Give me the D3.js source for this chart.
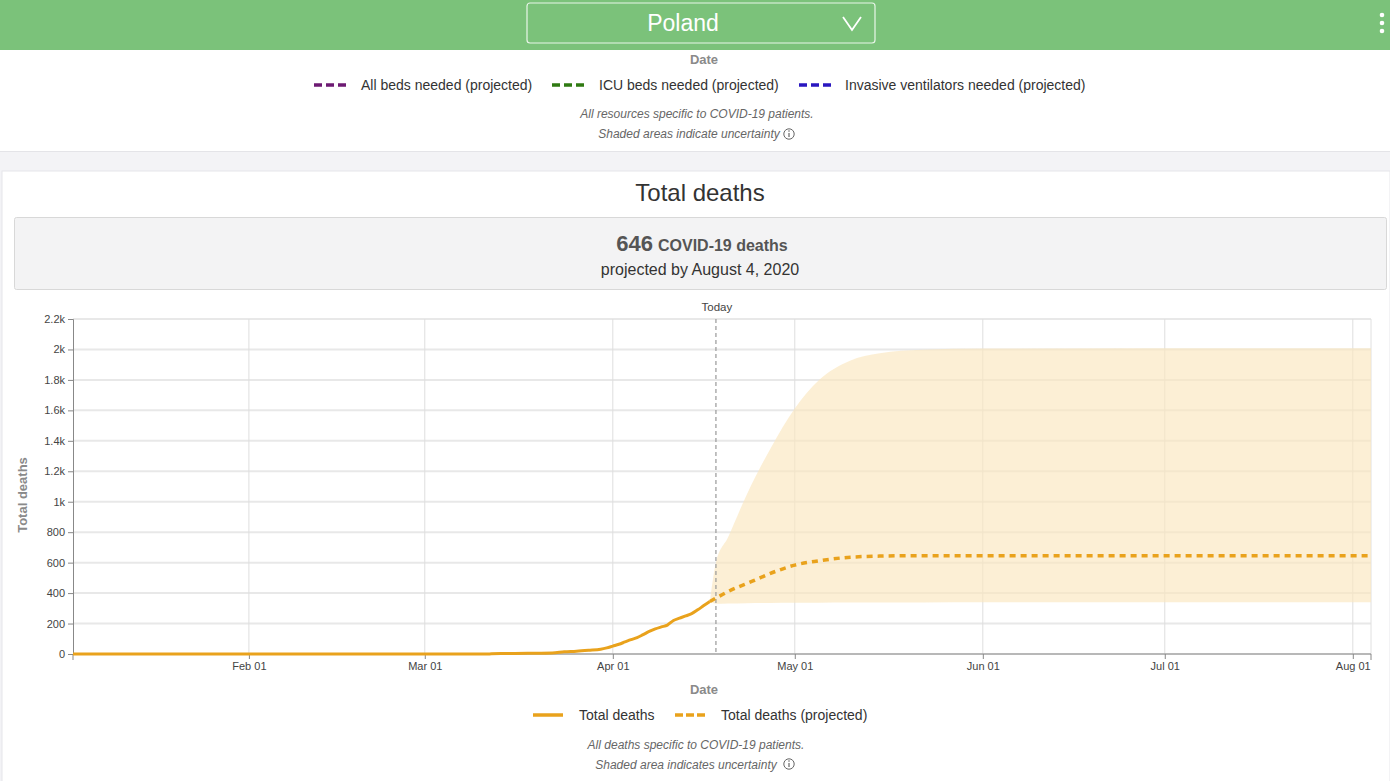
<!DOCTYPE html>
<html><head><meta charset="utf-8">
<script src="https://cdn.jsdelivr.net/npm/d3@7"></script>
<style>
html,body{margin:0;padding:0;background:#f3f3f6;overflow:hidden;}
svg{display:block;font-family:"Liberation Sans",Arial,sans-serif;}
</style></head>
<body>
<svg id="c" width="1390" height="781"></svg>
<script>
// ---- data ----
const country = "Poland";
const topLegendLabels = ["All beds needed (projected)", "ICU beds needed (projected)", "Invasive ventilators needed (projected)"];
const topLegendColors = ["#6d1a73", "#2f7a12", "#2a17c0"];
const actualDates = ["2020-01-03","2020-03-11","2020-03-12","2020-03-14","2020-03-18","2020-03-22","2020-03-24","2020-03-26","2020-03-28","2020-03-30","2020-03-31","2020-04-01","2020-04-02","2020-04-03","2020-04-04","2020-04-05","2020-04-06","2020-04-07","2020-04-08","2020-04-09","2020-04-10","2020-04-11","2020-04-12","2020-04-13","2020-04-14","2020-04-15","2020-04-16","2020-04-17"];
const actualDeaths = [0,0,1,3,5,7,14,18,24,31,40,52,64,79,94,107,127,148,165,178,190,220,235,250,265,290,318,345];
const projDates = ["2020-04-17","2020-04-18","2020-04-20","2020-04-24","2020-04-28","2020-05-01","2020-05-05","2020-05-09","2020-05-15","2020-05-22","2020-06-15","2020-08-04"];
const projDeaths = [345,367,410,478,545,584,612,632,643,646,646,646];
const bandDates = ["2020-04-17","2020-04-18","2020-04-20","2020-04-23","2020-04-27","2020-05-01","2020-05-05","2020-05-10","2020-05-15","2020-05-22","2020-06-01","2020-08-04"];
const bandLower = [345,330,332,334,335,336,337,338,338,339,340,340];
const bandUpper = [345,600,767,1040,1350,1613,1800,1925,1975,1998,2006,2008];
const yTicks = [0,200,400,600,800,1000,1200,1400,1600,1800,2000,2200];
const xTickDates = ["2020-02-01","2020-03-01","2020-04-01","2020-05-01","2020-06-01","2020-07-01","2020-08-01"];
const domainDates = ["2020-01-03","2020-08-04"];
const todayDate = "2020-04-18";
const projectedTotal = 646;

const parse = d3.utcParse("%Y-%m-%d");
const svg = d3.select("#c");
const F = "'Liberation Sans',Arial,sans-serif";

// ---- header ----
svg.append("rect").attr("x",0).attr("y",0).attr("width",1390).attr("height",50).attr("fill","#7bc27a");
svg.append("rect").attr("x",527).attr("y",3).attr("width",348).attr("height",40).attr("rx",3)
  .attr("fill","none").attr("stroke","#e8f5e8").attr("stroke-width",1.2);
svg.append("text").attr("x",683).attr("y",31).attr("text-anchor","middle").attr("fill","#fff")
  .attr("font-size",23).text(country);
svg.append("path").attr("d","M843,17 L852,30 L861,17").attr("fill","none").attr("stroke","#fff").attr("stroke-width",1.8);
[14,22,30].forEach(y=>svg.append("circle").attr("cx",1382).attr("cy",y+1).attr("r",2.3).attr("fill","#fff"));

// ---- top card ----
svg.append("rect").attr("x",0).attr("y",50).attr("width",1390).attr("height",101).attr("fill","#fff");
svg.append("line").attr("x1",0).attr("x2",1390).attr("y1",151.5).attr("y2",151.5).attr("stroke","#e4e4e8");
svg.append("text").attr("x",704).attr("y",64).attr("text-anchor","middle").attr("fill","#8a8a8a")
  .attr("font-size",13).attr("font-weight","bold").text("Date");
const tl = [{x:314,tx:361},{x:552,tx:599},{x:799,tx:845}];
tl.forEach((p,i)=>{
  svg.append("line").attr("x1",p.x).attr("x2",p.x+32).attr("y1",85).attr("y2",85)
    .attr("stroke",topLegendColors[i]).attr("stroke-width",3.5).attr("stroke-dasharray","8,4");
  svg.append("text").attr("x",p.tx).attr("y",90).attr("fill","#333").attr("font-size",14).text(topLegendLabels[i]);
});
svg.append("text").attr("x",697).attr("y",118).attr("text-anchor","middle").attr("fill","#666")
  .attr("font-size",12).attr("font-style","italic").text("All resources specific to COVID-19 patients.");
svg.append("text").attr("x",689).attr("y",138).attr("text-anchor","middle").attr("fill","#666")
  .attr("font-size",12).attr("font-style","italic").text("Shaded areas indicate uncertainty");
function info(cx,cy){
  svg.append("circle").attr("cx",cx).attr("cy",cy).attr("r",5.2).attr("fill","none").attr("stroke","#666").attr("stroke-width",1);
  svg.append("line").attr("x1",cx).attr("x2",cx).attr("y1",cy-1).attr("y2",cy+3).attr("stroke","#666").attr("stroke-width",1.2);
  svg.append("circle").attr("cx",cx).attr("cy",cy-3).attr("r",0.8).attr("fill","#666");
}
info(789,134);

// ---- second card ----
svg.append("rect").attr("x",2).attr("y",171).attr("width",1388).attr("height",620).attr("fill","#fff")
  .attr("stroke","#e6e6ea");
svg.append("text").attr("x",700).attr("y",201).attr("text-anchor","middle").attr("fill","#333")
  .attr("font-size",24).text("Total deaths");
svg.append("rect").attr("x",14.5).attr("y",217.5).attr("width",1372).attr("height",72).attr("fill","#f3f3f4")
  .attr("stroke","#d8d8d8").attr("rx",2);
const sumT = svg.append("text").attr("x",702).attr("y",251).attr("text-anchor","middle").attr("fill","#555");
sumT.append("tspan").attr("font-size",22).attr("font-weight","bold").text(projectedTotal);
sumT.append("tspan").attr("font-size",16).attr("font-weight","bold").attr("dx",5).text("COVID-19 deaths");
svg.append("text").attr("x",700).attr("y",275).attr("text-anchor","middle").attr("fill","#333")
  .attr("font-size",16).text("projected by August 4, 2020");

// ---- chart ----
const L=73, R=1371, T=319, B=654;
const x = d3.scaleUtc().domain(domainDates.map(parse)).range([L,R]);
const y = d3.scaleLinear().domain([0,2200]).range([B,T]);
const g = svg.append("g");

// grid
g.append("g").selectAll("line").data(yTicks).join("line")
  .attr("x1",L).attr("x2",R).attr("y1",d=>y(d)).attr("y2",d=>y(d))
  .attr("stroke","#e8e8e8").attr("stroke-width",2);
g.append("g").selectAll("line").data(xTickDates.map(parse)).join("line")
  .attr("x1",d=>x(d)).attr("x2",d=>x(d)).attr("y1",T).attr("y2",B)
  .attr("stroke","#dedede").attr("stroke-width",1);
g.append("line").attr("x1",R).attr("x2",R).attr("y1",T).attr("y2",B).attr("stroke","#e0e0e0");

// band
const band = bandDates.map((d,i)=>({d:parse(d),lo:bandLower[i],hi:bandUpper[i]}));
g.append("path").datum(band)
  .attr("d",d3.area().x(d=>x(d.d)).y0(d=>y(d.lo)).y1(d=>y(d.hi)).curve(d3.curveMonotoneX))
  .attr("fill","#fbe7bf").attr("fill-opacity",0.65);

// axes
const yAxis = d3.axisLeft(y).tickValues(yTicks).tickSize(5).tickPadding(3)
  .tickFormat(d=> d>=1000 ? (d/1000)+"k" : d);
const ya = g.append("g").attr("transform",`translate(${L},0)`).call(yAxis);
ya.selectAll("text").attr("font-size",11).attr("fill","#444").attr("font-family",F);
ya.selectAll("line,path").attr("stroke","#888");
const xAxis = d3.axisBottom(x).tickValues(xTickDates.map(parse)).tickSize(5).tickPadding(3)
  .tickFormat(d3.utcFormat("%b %d"));
const xa = g.append("g").attr("transform",`translate(0,${B})`).call(xAxis);
xa.selectAll("text").attr("font-size",11).attr("fill","#444").attr("font-family",F);
xa.selectAll("line,path").attr("stroke","#888");
xa.select(".domain").attr("d",`M${L},6V0H${R}V6`);

// today line
const tx = x(parse(todayDate));
g.append("line").attr("x1",tx).attr("x2",tx).attr("y1",T).attr("y2",B)
  .attr("stroke","#999").attr("stroke-width",1.2).attr("stroke-dasharray","4,3");
g.append("text").attr("x",tx+1).attr("y",311).attr("text-anchor","middle").attr("font-size",11.5)
  .attr("fill","#444").text("Today");

// lines
const orange = "#e9a21c";
const act = actualDates.map((d,i)=>({d:parse(d),v:actualDeaths[i]}));
const proj = projDates.map((d,i)=>({d:parse(d),v:projDeaths[i]}));
const line = d3.line().x(d=>x(d.d)).y(d=>y(d.v)).curve(d3.curveMonotoneX);
g.append("path").datum(act).attr("d",line).attr("fill","none").attr("stroke",orange).attr("stroke-width",3);
g.append("path").datum(proj).attr("d",line).attr("fill","none").attr("stroke",orange).attr("stroke-width",3.5)
  .attr("stroke-dasharray","6,5");

// axis titles
svg.append("text").attr("transform","translate(27,495) rotate(-90)").attr("text-anchor","middle")
  .attr("font-size",13).attr("font-weight","bold").attr("fill","#8a8a8a").text("Total deaths");
svg.append("text").attr("x",704).attr("y",694).attr("text-anchor","middle").attr("font-size",13)
  .attr("font-weight","bold").attr("fill","#8a8a8a").text("Date");

// bottom legend
svg.append("line").attr("x1",533).attr("x2",563).attr("y1",715).attr("y2",715).attr("stroke",orange).attr("stroke-width",3.5);
svg.append("text").attr("x",579).attr("y",720).attr("font-size",14).attr("fill","#333").text("Total deaths");
svg.append("line").attr("x1",675).attr("x2",705).attr("y1",715).attr("y2",715).attr("stroke",orange).attr("stroke-width",3.5)
  .attr("stroke-dasharray","8,3");
svg.append("text").attr("x",721).attr("y",720).attr("font-size",14).attr("fill","#333").text("Total deaths (projected)");
svg.append("text").attr("x",696).attr("y",749).attr("text-anchor","middle").attr("fill","#666")
  .attr("font-size",12).attr("font-style","italic").text("All deaths specific to COVID-19 patients.");
svg.append("text").attr("x",686).attr("y",769).attr("text-anchor","middle").attr("fill","#666")
  .attr("font-size",12).attr("font-style","italic").text("Shaded area indicates uncertainty");
info(789,764);
</script>
</body></html>
